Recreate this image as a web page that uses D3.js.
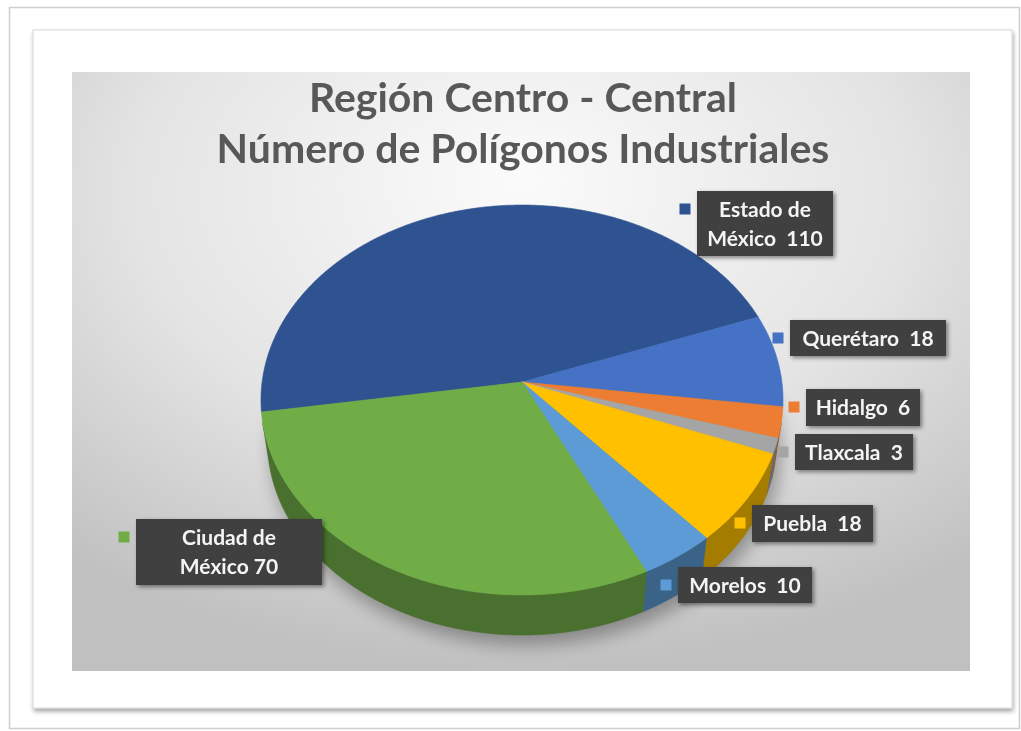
<!DOCTYPE html>
<html>
<head>
<meta charset="utf-8">
<script src="https://cdn.jsdelivr.net/npm/d3@7"></script>
<style>
  html, body { margin: 0; padding: 0; background: #fff; }
  svg { display: block; }
  text { font-family: Lato, "Open Sans", sans-serif; }
</style>
</head>
<body>
<svg id="chart" width="1021" height="731"></svg>
<script>
// ---- data ----
const categories = ["Estado de México", "Querétaro", "Hidalgo", "Tlaxcala", "Puebla", "Morelos", "Ciudad de México"];
const values = [110, 18, 6, 3, 18, 10, 70];
const sliceColors = ["#2F5290", "#4472C4", "#ED7D31", "#A5A5A5", "#FFC000", "#5B9BD5", "#70AD47"];
const titleLines = ["Región Centro - Central", "Número de Polígonos Industriales"];
const valueSeparators = ["  ", "  ", "  ", "  ", "  ", "  ", " "];

// ---- label box layout (x, y, w, h) ----
const labelBoxes = [
  [697, 191, 136, 65],
  [790, 320, 156, 36],
  [806, 389, 114, 37],
  [795, 434, 118, 36],
  [752, 505, 121, 37],
  [678, 567, 134, 36],
  [136, 519, 186, 66]
];

const W = 1021, H = 731;
const svg = d3.select("#chart");
const defs = svg.append("defs");

// ---- filters & gradients ----
const frameShadow = defs.append("filter").attr("id", "frameShadow")
  .attr("x", "-5%").attr("y", "-5%").attr("width", "110%").attr("height", "110%");
frameShadow.append("feDropShadow").attr("dx", 1).attr("dy", 3).attr("stdDeviation", 2)
  .attr("flood-color", "#000").attr("flood-opacity", 0.35);

const boxShadow = defs.append("filter").attr("id", "boxShadow")
  .attr("x", "-20%").attr("y", "-30%").attr("width", "140%").attr("height", "160%");
boxShadow.append("feDropShadow").attr("dx", 2).attr("dy", 2).attr("stdDeviation", 2)
  .attr("flood-color", "#000").attr("flood-opacity", 0.45);

const pieShadow = defs.append("filter").attr("id", "pieShadow")
  .attr("x", "-30%").attr("y", "-50%").attr("width", "160%").attr("height", "200%");
pieShadow.append("feGaussianBlur").attr("stdDeviation", 9);

const soften = defs.append("filter").attr("id", "soften");
soften.append("feGaussianBlur").attr("stdDeviation", 0.6);

const bg = defs.append("radialGradient").attr("id", "bgGrad")
  .attr("cx", "50%").attr("cy", "22%").attr("r", "78%").attr("fx", "50%").attr("fy", "18%");
bg.append("stop").attr("offset", "0%").attr("stop-color", "#fbfbfb");
bg.append("stop").attr("offset", "55%").attr("stop-color", "#e4e4e4");
bg.append("stop").attr("offset", "100%").attr("stop-color", "#c0c0c0");

// ---- page frames ----
svg.append("rect").attr("x", 9.5).attr("y", 7.5).attr("width", 1010).attr("height", 721)
  .attr("fill", "#fff").attr("stroke", "#cfcfcf").attr("stroke-width", 1.5);
svg.append("rect").attr("x", 33).attr("y", 30).attr("width", 979).attr("height", 678)
  .attr("fill", "#fff").attr("stroke", "#d6d6d6").attr("filter", "url(#frameShadow)");
svg.append("rect").attr("x", 72).attr("y", 72).attr("width", 898).attr("height", 599)
  .attr("fill", "url(#bgGrad)");

// ---- title ----
const title = svg.append("g").attr("filter", "url(#soften)");
const titleText = title.selectAll("text").data(titleLines).join("text")
  .attr("x", 523).attr("y", (d, i) => 112 + i * 51)
  .attr("text-anchor", "middle")
  .attr("fill", "#595959")
  .attr("font-weight", 700)
  .attr("font-size", 36)
  .text(d => d);
// size the title so its longer line spans the intended width
(function fitTitle() {
  const w = titleText.nodes()[1].getComputedTextLength();
  const fs = 36 * 613 / w;
  titleText.attr("font-size", fs);
})();

// ---- 3D pie projection ----
const proj = { cx: 522, cy: 382, f: 1881.7, d: 7.24, alpha: Math.asin(0.7438), depth: 0.2458 };
const sa = Math.sin(proj.alpha), ca = Math.cos(proj.alpha);
// angle measured clockwise from the back (screen top), radius r, height y
function project(phi, r, y) {
  const X = r * Math.sin(phi), Z = -r * Math.cos(phi);
  const yp = Z * sa - y * ca;
  const zp = proj.d - Z * ca - y * sa;
  return [proj.cx + proj.f * X / zp, proj.cy + proj.f * yp / zp];
}
function arcPoints(a0, a1, y) {
  const n = Math.max(2, Math.ceil(Math.abs(a1 - a0) / (Math.PI / 360)));
  return d3.range(n + 1).map(i => project(a0 + (a1 - a0) * i / n, 1, y));
}
const line = d3.line().curve(d3.curveLinear);

const startAngle = 261.2 * Math.PI / 180;
const pie = d3.pie().sort(null).value(d => d)
  .startAngle(startAngle).endAngle(startAngle + 2 * Math.PI);
const arcs = pie(values);

const pieG = svg.append("g").attr("filter", "url(#soften)");

// soft shadow under the pie
const shadowPts = arcPoints(0, 2 * Math.PI, -proj.depth).map(p => [p[0] + 4, p[1] + 10]);
pieG.append("path").attr("d", line(shadowPts) + "Z")
  .attr("fill", "#000").attr("opacity", 0.32).attr("filter", "url(#pieShadow)");

// side walls: visible where the outer wall faces the viewer
const v0 = Math.acos(-1 / (proj.d * ca));
const v1 = 2 * Math.PI - v0;
const walls = [];
arcs.forEach((a, i) => {
  [0, 1].forEach(k => {
    const lo = Math.max(a.startAngle, v0 + 2 * Math.PI * k);
    const hi = Math.min(a.endAngle, v1 + 2 * Math.PI * k);
    if (hi > lo) walls.push({ i, lo, hi });
  });
});
pieG.selectAll("path.wall").data(walls).join("path")
  .attr("class", "wall")
  .attr("d", w => {
    const top = arcPoints(w.lo, w.hi, 0);
    const bot = arcPoints(w.hi, w.lo, -proj.depth);
    return line(top.concat(bot)) + "Z";
  })
  .attr("fill", w => d3.color(sliceColors[w.i]).darker(1.25))
  .attr("stroke", w => d3.color(sliceColors[w.i]).darker(1.25))
  .attr("stroke-width", 0.6);

// top faces
pieG.selectAll("path.slice").data(arcs).join("path")
  .attr("class", "slice")
  .attr("d", a => line([[proj.cx, proj.cy]].concat(arcPoints(a.startAngle, a.endAngle, 0))) + "Z")
  .attr("fill", (a, i) => sliceColors[i])
  .attr("stroke", (a, i) => sliceColors[i])
  .attr("stroke-width", 0.6);

// ---- data labels ----
function labelLinesFor(i) {
  const name = categories[i];
  const tail = valueSeparators[i] + values[i];
  const cut = name.indexOf(" de ");
  if (cut >= 0) return [name.slice(0, cut + 3), name.slice(cut + 4) + tail];
  return [name + tail];
}
const labels = svg.append("g").attr("filter", "url(#soften)")
  .selectAll("g").data(categories).join("g");
labels.append("rect")
  .attr("x", (d, i) => labelBoxes[i][0]).attr("y", (d, i) => labelBoxes[i][1])
  .attr("width", (d, i) => labelBoxes[i][2]).attr("height", (d, i) => labelBoxes[i][3])
  .attr("fill", "#404040").attr("filter", "url(#boxShadow)");
labels.append("rect")
  .attr("x", (d, i) => labelBoxes[i][0] - 17.5).attr("y", (d, i) => labelBoxes[i][1] + 12.5)
  .attr("width", 11).attr("height", 11)
  .attr("fill", (d, i) => sliceColors[i]);
labels.each(function (d, i) {
  const g = d3.select(this);
  const [bx, by, bw] = labelBoxes[i];
  g.selectAll("text").data(labelLinesFor(i)).join("text")
    .attr("x", bx + bw / 2).attr("y", (t, j) => by + 26 + j * 29)
    .attr("text-anchor", "middle")
    .attr("fill", "#f4f4f4")
    .attr("font-weight", 700)
    .attr("font-size", 21)
    .style("white-space", "pre")
    .text(t => t);
});
</script>
</body>
</html>
